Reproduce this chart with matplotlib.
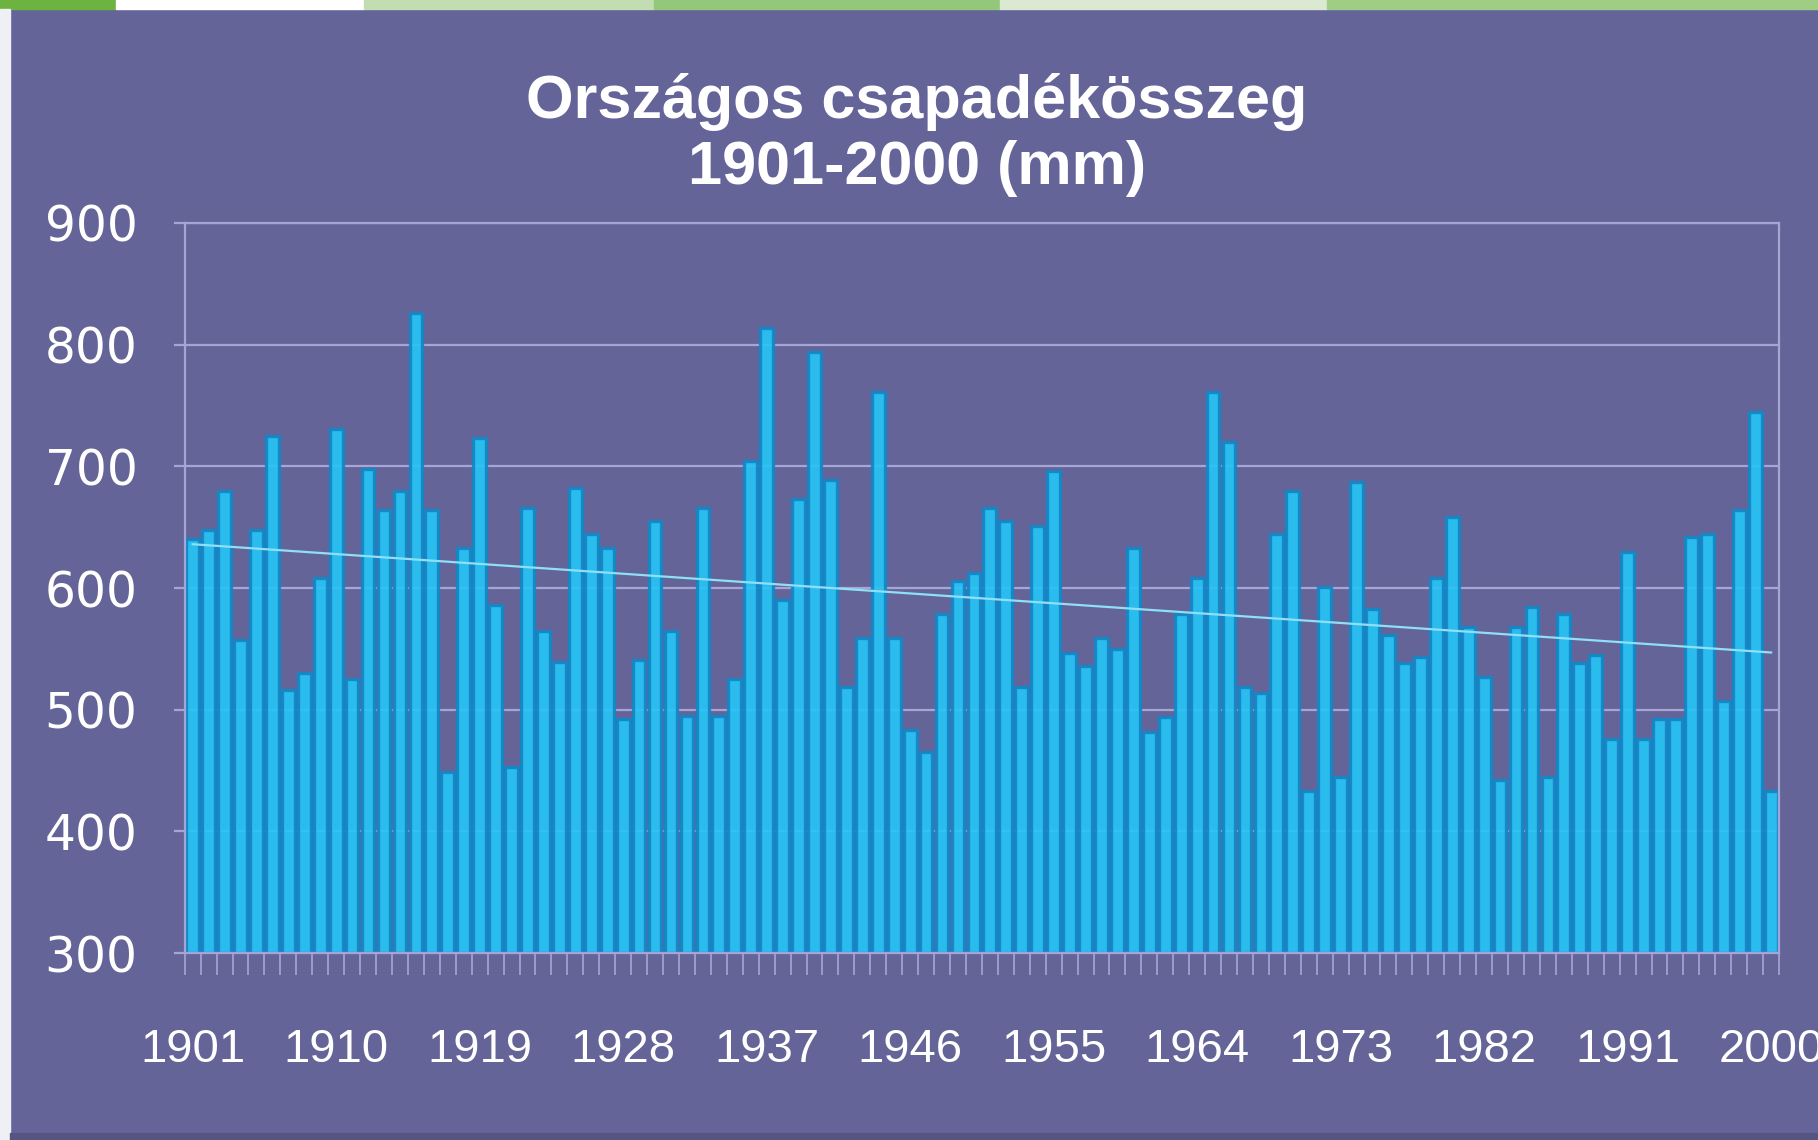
import numpy as np
import matplotlib
matplotlib.use("Agg")
import matplotlib.pyplot as plt
from matplotlib.patches import Rectangle

# annual precipitation, Hungary 1901-2000 (mm)
years = list(range(1901, 2001))
rain = [
    640, 648, 680, 557, 648, 725, 516, 530, 608, 731,   # 1901-1910
    525, 698, 664, 680, 826, 664, 449, 633, 723, 586,   # 1911-1920
    453, 666, 565, 539, 682, 644, 633, 492, 541, 655,   # 1921-1930
    565, 495, 666, 495, 525, 704, 814, 590, 673, 794,   # 1931-1940
    689, 519, 559, 761, 559, 483, 465, 579, 606, 612,   # 1941-1950
    666, 655, 519, 651, 696, 547, 536, 559, 550, 633,   # 1951-1960
    482, 494, 579, 608, 761, 720, 519, 514, 644, 680,   # 1961-1970
    433, 601, 445, 687, 583, 561, 538, 543, 608, 658,   # 1971-1980
    568, 527, 442, 568, 584, 445, 579, 538, 545, 476,   # 1981-1990
    630, 476, 492, 492, 642, 644, 507, 664, 745, 433,   # 1991-2000
]
# linear trend line, end points
trend_years = [1901, 2000]
trend_vals = [636, 547]

label_years = [1901, 1910, 1919, 1928, 1937, 1946, 1955, 1964, 1973, 1982, 1991, 2000]
y_ticks = [300, 400, 500, 600, 700, 800, 900]

bg = "#646498"
grid_col = "#a6a6d6"

plt.rcParams["font.family"] = ["Liberation Sans", "DejaVu Sans"]

fig = plt.figure(figsize=(18.18, 11.4), dpi=100, facecolor=bg)

# green stripes along the top edge and the light strip on the left
stripes = [(0, 0.064, "#6db33f"), (0.064, 0.2, "#ffffff"), (0.2, 0.36, "#c3ddb3"),
           (0.36, 0.55, "#93c87a"), (0.55, 0.73, "#dbe9d2"), (0.73, 1.0, "#9fcd84")]
for x0, x1, c in stripes:
    fig.patches.append(Rectangle((x0, 0.992), x1 - x0, 0.008, transform=fig.transFigure,
                                 color=c, zorder=0))
fig.patches.append(Rectangle((0, 0), 0.0055, 0.992, transform=fig.transFigure,
                             color="#eef0f4", zorder=0))
fig.patches.append(Rectangle((0.0055, 0), 0.9945, 0.006, transform=fig.transFigure,
                             color="#55557f", zorder=0))

ax = fig.add_axes([0.1016, 0.1640, 0.8770, 0.6404])
ax.set_facecolor(bg)

x = np.arange(len(years))
ax.bar(x, np.array(rain) - 300, bottom=300, width=0.8, color="#27c4f6",
       edgecolor="#1486c6", linewidth=2.4, alpha=0.92, zorder=2)

tx = [years.index(y) for y in trend_years]
ax.plot(tx, trend_vals, color="#8fe0f6", linewidth=1.6, zorder=3)

ax.set_xlim(-0.5, len(years) - 0.5)
ax.set_ylim(300, 900)
ax.set_yticks(y_ticks)
ax.set_yticklabels([str(v) for v in y_ticks], family="DejaVu Sans")
ax.set_xticks([years.index(y) for y in label_years])
ax.set_xticklabels([str(y) for y in label_years])
ax.set_xticks(np.arange(-0.5, len(years), 1), minor=True)

ax.yaxis.grid(True, color=grid_col, linewidth=1.6, zorder=1)
ax.set_axisbelow(True)
for s in ax.spines.values():
    s.set_color(grid_col)
    s.set_linewidth(1.6)

ax.tick_params(axis="y", colors=grid_col, labelcolor="white", labelsize=35,
               length=8, width=1.6, pad=26)
ax.tick_params(axis="x", which="major", length=0, labelcolor="white",
               labelsize=34, pad=54)
ax.tick_params(axis="x", which="minor", colors=grid_col, length=16, width=1.2)

fig.text(0.5044, 0.9105, "Országos csapadékösszeg", color="white", fontsize=44,
         fontweight="bold", ha="center", va="center")
fig.text(0.5044, 0.8525, "1901-2000 (mm)", color="white", fontsize=44,
         fontweight="bold", ha="center", va="center")

fig.savefig("out.png", dpi=100, facecolor=fig.get_facecolor())
